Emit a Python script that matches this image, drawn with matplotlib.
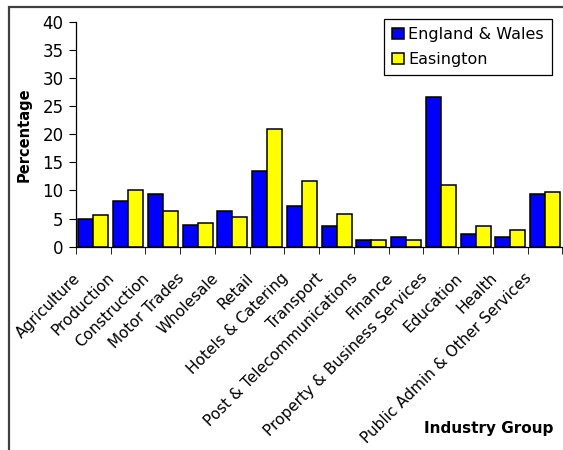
import numpy as np
import matplotlib
matplotlib.use('Agg')
import matplotlib.pyplot as plt
import matplotlib.transforms as mtransforms
from matplotlib.patches import Rectangle

plt.rcParams['font.family'] = ['DejaVu Sans']

# employment share by industry group (%)
industries = ['Agriculture', 'Production', 'Construction', 'Motor Trades', 'Wholesale',
              'Retail', 'Hotels & Catering', 'Transport', 'Post & Telecommunications',
              'Finance', 'Property & Business Services', 'Education', 'Health',
              'Public Admin & Other Services']
england_wales = [5.0, 8.1, 9.3, 3.8, 6.4, 13.4, 7.2, 3.6, 1.2, 1.7, 26.6, 2.2, 1.7, 9.3]
easington = [5.7, 10.0, 6.4, 4.3, 5.2, 20.9, 11.7, 5.8, 1.2, 1.2, 11.0, 3.6, 2.9, 9.8]

fig = plt.figure(figsize=(5.63, 4.5), dpi=100)
ax = fig.add_axes([0.135, 0.4518, 0.864, 0.5])

# chart area border (clipped on the right and bottom)
fig.patches.append(Rectangle((8.5 / 563, -0.1), 1.2, 1.1 - 6.5 / 450,
                             transform=fig.transFigure, fill=False,
                             edgecolor='#404040', linewidth=1.6))

x = np.arange(len(industries))
w = 0.43
ax.bar(x - w / 2, england_wales, w, color='#0000ff', edgecolor='black',
       linewidth=1.1, label='England & Wales')
ax.bar(x + w / 2, easington, w, color='#ffff00', edgecolor='black',
       linewidth=1.1, label='Easington')

ax.set_xlim(-0.5, len(industries) - 0.5)
ax.set_ylim(0, 40)
ax.set_yticks(range(0, 41, 5))
ax.tick_params(axis='y', labelsize=12, length=5, direction='out', pad=4)

ax.set_xticks(x)
ax.set_xticklabels(industries, rotation=45, ha='right', rotation_mode='anchor',
                   fontsize=11)
ax.tick_params(axis='x', which='major', length=0, pad=12)
# nudge the rotated labels so they end just left of the bar pairs
shift = mtransforms.ScaledTranslation(-0.21, -0.07, fig.dpi_scale_trans)
for lbl in ax.get_xticklabels():
    lbl.set_transform(lbl.get_transform() + shift)
ax.set_xticks(np.arange(-0.5, len(industries), 1), minor=True)
ax.tick_params(axis='x', which='minor', length=5, direction='out')

for side in ['top', 'right']:
    ax.spines[side].set_visible(False)
ax.spines['left'].set_linewidth(0.9)
ax.spines['bottom'].set_linewidth(0.9)

ax.set_ylabel('Percentage', fontsize=10.5, fontweight='bold', labelpad=8)
fig.text(424 / 563, 1 - 428 / 450, 'Industry Group', fontsize=11,
         fontweight='bold', va='center', ha='left')

leg = ax.legend(loc='upper right', bbox_to_anchor=(552 / 563, 1 - 19 / 450),
                bbox_transform=fig.transFigure, fontsize=11.5, fancybox=False,
                framealpha=1, edgecolor='black', handlelength=0.7,
                handleheight=0.7, handletextpad=0.3, borderpad=0.5,
                labelspacing=0.65, borderaxespad=0)
leg.get_frame().set_linewidth(0.9)

fig.savefig('out.png', dpi=100)
